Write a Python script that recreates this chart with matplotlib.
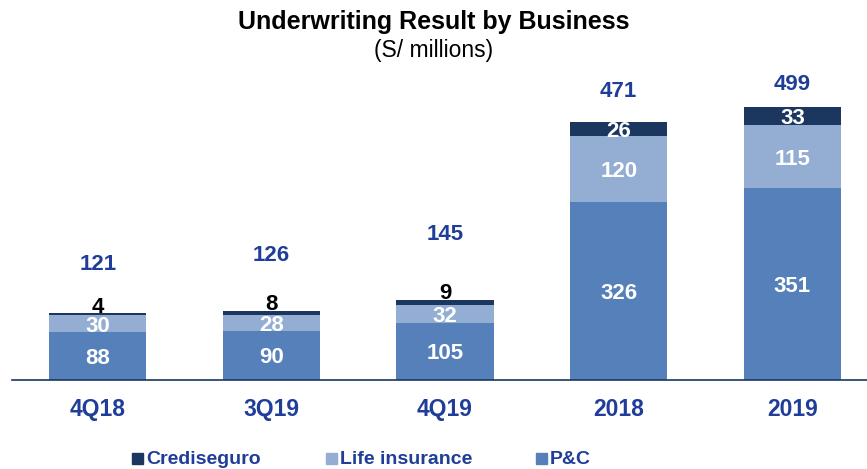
import matplotlib
matplotlib.use("Agg")
import matplotlib.pyplot as plt
from matplotlib.patches import Rectangle

plt.rcParams['font.family'] = ['Liberation Sans', 'DejaVu Sans']

categories = ["4Q18", "3Q19", "4Q19", "2018", "2019"]
pc = [88, 90, 105, 326, 351]
life = [30, 28, 32, 120, 115]
credisegur = [4, 8, 9, 26, 33]
totals = [121, 126, 145, 471, 499]

series_names = ["Crediseguro", "Life insurance", "P&C"]
c_cred = "#1B365F"
c_life = "#93ADD3"
c_pc = "#5680BA"
c_text = "#1F3D99"

# vertical gap (points) between bar top and the centre of the total label
total_offsets = [35, 40, 47, 22, 16]

fig = plt.figure(figsize=(8.67, 4.69), dpi=100)
ax = fig.add_axes([12 / 867, 89 / 469, 855 / 867, 320 / 469])

x = range(len(categories))
w = 0.56
ax.bar(x, pc, width=w, color=c_pc)
ax.bar(x, life, width=w, bottom=pc, color=c_life)
base2 = [a + b for a, b in zip(pc, life)]
ax.bar(x, credisegur, width=w, bottom=base2, color=c_cred)

fs = 16
for i in x:
    ax.text(i, pc[i] / 2, str(pc[i]), ha="center", va="center_baseline",
            color="white", fontsize=fs, fontweight="bold")
    ax.text(i, pc[i] + life[i] / 2, str(life[i]), ha="center",
            va="center_baseline", color="white", fontsize=fs,
            fontweight="bold")
    top = base2[i] + credisegur[i]
    if credisegur[i] >= 15:
        ax.text(i, base2[i] + credisegur[i] / 2, str(credisegur[i]),
                ha="center", va="center_baseline", color="white",
                fontsize=fs, fontweight="bold")
    else:
        ax.annotate(str(credisegur[i]), (i, top), xytext=(0, 0.5),
                    textcoords="offset points", ha="center", va="baseline",
                    color="black", fontsize=fs, fontweight="bold")
    ax.annotate(str(totals[i]), (i, top), xytext=(0, total_offsets[i]),
                textcoords="offset points", ha="center", va="center",
                color=c_text, fontsize=fs, fontweight="bold")

ax.set_xlim(-0.494, 4.43)
ax.set_ylim(0, 585)
for s in ["top", "right", "left"]:
    ax.spines[s].set_visible(False)
ax.spines["bottom"].set_color(c_cred)
ax.spines["bottom"].set_linewidth(1.2)
ax.set_yticks([])
ax.set_xticks(list(x))
ax.set_xticklabels(categories, fontsize=16.5, fontweight="bold", color=c_text)
ax.tick_params(axis="x", length=0, pad=13)

fig.text(0.5, 1 - 22 / 469, "Underwriting Result by Business", ha="center",
         va="center", fontsize=18, fontweight="bold", color="black")
fig.text(0.5, 1 - 50 / 469, "(S/ millions)", ha="center", va="center",
         fontsize=16.5, color="black")

# legend along the bottom edge
leg_x = [132, 326, 536]
leg_colors = [c_cred, c_life, c_pc]
for lx, name, col in zip(leg_x, series_names, leg_colors):
    fig.patches.append(Rectangle((lx / 867, 1 - 464 / 469), 11 / 867, 11 / 469,
                                 transform=fig.transFigure, color=col))
    fig.text((lx + 14) / 867, 1 - 464 / 469, name, ha="left", va="baseline",
             fontsize=14, fontweight="bold", color=c_text)

fig.savefig("out.png", dpi=100)
